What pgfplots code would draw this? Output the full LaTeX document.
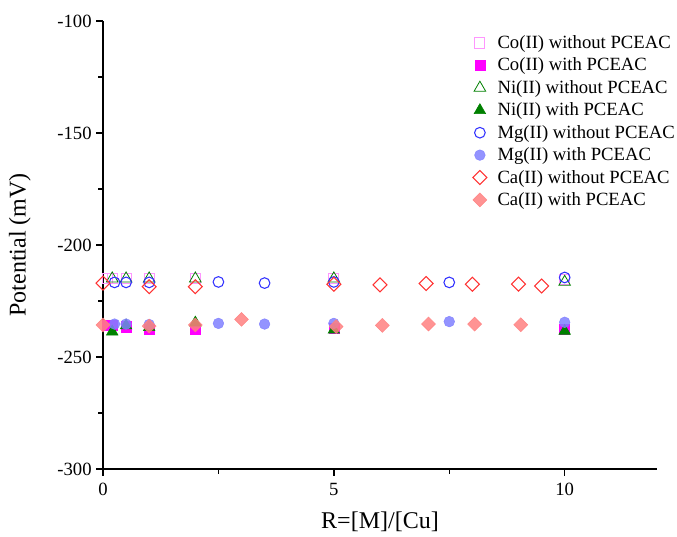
\documentclass[border=0pt]{standalone}
\usepackage{fontspec}
\setmainfont{Liberation Serif}
\usepackage{pgfplots}
\pgfplotsset{compat=1.18}

\definecolor{coopen}{RGB}{255,150,255}
\definecolor{cofill}{RGB}{255,0,255}
\definecolor{nicol}{RGB}{0,128,0}
\definecolor{mgopen}{RGB}{50,50,255}
\definecolor{mgfill}{RGB}{128,128,255}
\definecolor{caopen}{RGB}{255,50,50}
\definecolor{cafill}{RGB}{255,128,128}

\begin{document}
\begin{tikzpicture}
\begin{axis}[
    scale only axis,
    width=415.5pt,
    height=336pt,
    xmin=0, xmax=12,
    ymin=-300, ymax=-100,
    xtick={0,5,10},
    ytick={-300,-250,-200,-150,-100},
    minor xtick={2.5,7.5},
    minor ytick={-275,-225,-175,-125},
    axis x line*=bottom,
    axis y line*=left,
    axis line style={line width=1.2pt,-},
    tick style={line width=1pt,black},
    major tick length=5pt,
    minor tick length=3.5pt,
    tick align=outside,
    tick label style={font=\fontsize{14}{16}\selectfont},
    xticklabel style={yshift=-2pt},
    /pgf/number format/assume math mode=true,
    xlabel={R=[M]/[Cu]},
    ylabel={Potential (mV)},
    every axis x label/.style={at={(axis description cs:0.5,-0.117)}, anchor=center, font=\fontsize{18}{20}\selectfont},
    every axis y label/.style={at={(axis description cs:-0.15,0.5)}, rotate=90, anchor=center, font=\fontsize{18}{20}\selectfont},
    legend style={draw=none, fill=none, at={(axis description cs:0.66,0.98)}, anchor=north west,
        font=\fontsize{14}{16}\selectfont, row sep=1.6pt,
        /tikz/every odd column/.append style={column sep=6pt}},
    legend cell align=left,
    clip=false,
]
% Co(II) without PCEAC
\addplot[only marks, mark=square, mark size=3.8pt, mark options={draw=coopen, line width=0.7pt}]
coordinates {(0.1,-215) (0.2,-215) (0.5,-215) (1,-215) (2,-215) (5,-215) (10,-215.5)};
\addlegendentry{Co(II) without PCEAC}
% Co(II) with PCEAC
\addplot[only marks, mark=square*, mark size=3.8pt, mark options={draw=cofill, fill=cofill}]
coordinates {(0.1,-236) (0.2,-236) (0.5,-236.5) (1,-237.5) (2,-237.5) (5,-237) (10,-237.5)};
\addlegendentry{Co(II) with PCEAC}
% Ni(II) without PCEAC
\addplot[only marks, mark=triangle, mark size=5pt, mark options={draw=nicol, line width=0.6pt}]
coordinates {(0.2,-215) (0.5,-215) (1,-215) (2,-215) (5,-215) (10,-216.5)};
\addlegendentry{Ni(II) without PCEAC}
% Ni(II) with PCEAC
\addplot[only marks, mark=triangle*, mark size=5pt, mark options={draw=nicol, fill=nicol}]
coordinates {(0.2,-238.7) (0.5,-236) (1,-236.7) (2,-234.7) (5,-237.9) (10,-238.4)};
\addlegendentry{Ni(II) with PCEAC}
% Mg(II) without PCEAC
\addplot[only marks, mark=o, mark size=4pt, mark options={draw=mgopen, line width=0.8pt}]
coordinates {(0.25,-216.7) (0.5,-216.7) (1,-216.7) (2.5,-216.5) (3.5,-217) (5,-216.5) (7.5,-216.7) (10,-214.5)};
\addlegendentry{Mg(II) without PCEAC}
% Mg(II) with PCEAC
\addplot[only marks, mark=*, mark size=4pt, mark options={draw=mgfill, fill=mgfill, opacity=0.85}]
coordinates {(0.25,-235.3) (0.5,-235.3) (1,-235.5) (2.5,-235) (3.5,-235.3) (5,-235) (7.5,-234.2) (10,-234.5)};
\addlegendentry{Mg(II) with PCEAC}
% Ca(II) without PCEAC
\addplot[only marks, mark=square, mark size=3.7pt, mark options={rotate=45, draw=caopen, line width=0.8pt}]
coordinates {(0,-217) (1,-218.6) (2,-218.6) (5,-217.5) (6,-217.8) (7,-217.2) (8,-217.5) (9,-217.5) (9.5,-218.3)};
\addlegendentry{Ca(II) without PCEAC}
% Ca(II) with PCEAC
\addplot[only marks, mark=square*, mark size=3.7pt, mark options={rotate=45, draw=cafill, fill=cafill, opacity=0.85}]
coordinates {(0,-235.7) (1,-236.2) (2,-235.7) (3,-233.2) (5.05,-236.4) (6.05,-235.9) (7.05,-235.3) (8.05,-235.3) (9.05,-235.6)};
\addlegendentry{Ca(II) with PCEAC}
\end{axis}
\pgfresetboundingbox
\path[use as bounding box] ([shift={(-77.25pt,15.75pt)}]current axis.north west) rectangle ([shift={(15pt,-51pt)}]current axis.south east);
\end{tikzpicture}
\end{document}
